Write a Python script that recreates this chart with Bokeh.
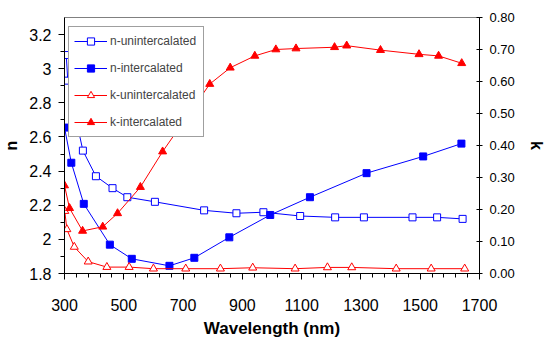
import math
from bokeh.plotting import figure
from bokeh.models import (Range1d, LinearAxis, FixedTicker, CustomJSTickFormatter,
                          PrintfTickFormatter, Legend, LegendItem)
from bokeh.embed import file_html
from bokeh.resources import INLINE

# ---- data ----
wl_n_unint = [306, 311, 362, 406, 462, 512, 605, 771, 880, 971, 1095, 1213, 1310, 1474, 1557, 1643]
n_unint = [3.08, 2.93, 2.52, 2.37, 2.30, 2.247, 2.22, 2.17, 2.153, 2.159, 2.137, 2.129, 2.129, 2.129, 2.129, 2.12]

wl_n_int = [300, 323, 365, 453, 527, 654, 738, 856, 994, 1128, 1319, 1510, 1639]
n_int = [2.655, 2.449, 2.208, 1.969, 1.886, 1.845, 1.892, 2.012, 2.143, 2.247, 2.388, 2.486, 2.561]

wl_k_unint = [301, 308, 333, 380, 443, 518, 600, 709, 826, 935, 1078, 1187, 1269, 1419, 1537, 1650]
k_unint = [0.195, 0.138, 0.083, 0.037, 0.020, 0.020, 0.015, 0.015, 0.015, 0.018, 0.015, 0.019, 0.019, 0.015, 0.015, 0.015]

wl_k_int = [300, 317, 361, 429, 479, 556, 631, 790, 859, 942, 1013, 1081, 1211, 1252, 1366, 1496, 1562, 1640]
k_int = [0.275, 0.204, 0.133, 0.146, 0.188, 0.270, 0.381, 0.592, 0.643, 0.680, 0.700, 0.703, 0.707, 0.712, 0.698, 0.685, 0.680, 0.657]

x_ticks = [300, 500, 700, 900, 1100, 1300, 1500, 1700]
n_ticks = [1.8, 2.0, 2.2, 2.4, 2.6, 2.8, 3.0, 3.2]
k_ticks = [0.0, 0.1, 0.2, 0.3, 0.4, 0.5, 0.6, 0.7, 0.8]

labels = ["n-unintercalated", "n-intercalated", "k-unintercalated", "k-intercalated"]
x_title = "Wavelength (nm)"
n_title = "n"
k_title = "k"

BLUE = "#0000FF"
RED = "#FF0000"
FONT = "Arial"

p = figure(width=547, height=341, output_backend="svg", toolbar_location=None,
           x_range=Range1d(300, 1700), y_range=Range1d(1.8, 3.3),
           min_border_left=62, min_border_right=66, min_border_top=17, min_border_bottom=68)
p.extra_y_ranges = {"k": Range1d(0, 0.8)}
p.grid.visible = False
p.outline_line_color = "#808080"
p.outline_line_width = 1
p.background_fill_color = "white"
p.border_fill_color = "white"

def style_title(ax, size):
    ax.axis_label_text_font = FONT
    ax.axis_label_text_font_style = "bold"
    ax.axis_label_text_font_size = size
    ax.axis_label_text_color = "black"

# bottom axis
xa = p.xaxis[0]
xa.ticker = FixedTicker(ticks=x_ticks, minor_ticks=list(range(300, 1701, 40)))
xa.major_tick_out = 6
xa.major_tick_in = 0
xa.minor_tick_out = 4
xa.minor_tick_in = 0
xa.major_label_standoff = 19
xa.major_label_text_font = FONT
xa.major_label_text_font_size = "16px"
xa.major_label_text_color = "black"
xa.axis_line_color = "black"
xa.axis_label = x_title
xa.axis_label_standoff = 5
style_title(xa, "17px")

# left axis
ya = p.yaxis[0]
ya.ticker = FixedTicker(ticks=n_ticks, minor_ticks=[1.9, 2.1, 2.3, 2.5, 2.7, 2.9, 3.1])
ya.formatter = CustomJSTickFormatter(code="return String(Math.round(tick*10)/10)")
ya.major_tick_out = 6
ya.major_tick_in = 0
ya.minor_tick_out = 4
ya.minor_tick_in = 0
ya.major_label_standoff = 7
ya.major_label_text_font = FONT
ya.major_label_text_font_size = "16px"
ya.major_label_text_color = "black"
ya.axis_line_color = "black"
ya.axis_label = n_title
ya.axis_label_standoff = 6
style_title(ya, "16px")

# right axis
ka = LinearAxis(y_range_name="k", ticker=FixedTicker(ticks=k_ticks),
                formatter=PrintfTickFormatter(format="%.2f"))
ka.major_tick_out = 3
ka.major_tick_in = 3
ka.minor_tick_out = 0
ka.minor_tick_in = 0
ka.major_label_standoff = 7
ka.major_label_text_font = FONT
ka.major_label_text_font_size = "13px"
ka.major_label_text_color = "black"
ka.axis_line_color = "black"
ka.axis_label = k_title
ka.axis_label_standoff = 10
style_title(ka, "16px")
p.add_layout(ka, "right")

# series
l1 = p.line(wl_n_unint, n_unint, line_color=BLUE, line_width=1)
s1 = p.scatter(wl_n_unint, n_unint, marker="square", size=7, line_color=BLUE, fill_color="white", line_width=1)
l2 = p.line(wl_n_int, n_int, line_color=BLUE, line_width=1)
s2 = p.scatter(wl_n_int, n_int, marker="square", size=7, line_color=BLUE, fill_color=BLUE)
l3 = p.line(wl_k_unint, k_unint, line_color=RED, line_width=1, y_range_name="k")
s3 = p.scatter(wl_k_unint, k_unint, marker="triangle", size=8, line_color=RED, fill_color="white",
               line_width=1, y_range_name="k")
l4 = p.line(wl_k_int, k_int, line_color=RED, line_width=1, y_range_name="k")
s4 = p.scatter(wl_k_int, k_int, marker="triangle", size=8, line_color=RED, fill_color=RED, y_range_name="k")

legend = Legend(items=[LegendItem(label=labels[0], renderers=[l1, s1]),
                       LegendItem(label=labels[1], renderers=[l2, s2]),
                       LegendItem(label=labels[2], renderers=[l3, s3]),
                       LegendItem(label=labels[3], renderers=[l4, s4])],
                location=(4, 136), margin=0, padding=5, spacing=9,
                glyph_height=18, glyph_width=33, label_height=18, label_width=88,
                label_standoff=3, label_text_font=FONT, label_text_font_size="12px",
                border_line_color="#404040", border_line_width=1.5,
                background_fill_color="white", background_fill_alpha=1)
p.add_layout(legend, "center")

open("out.html", "w").write(file_html(p, INLINE))
